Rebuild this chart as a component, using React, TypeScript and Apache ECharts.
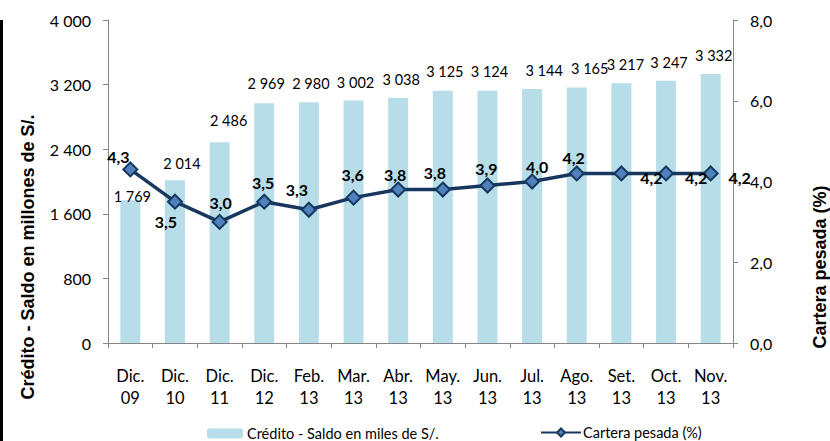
import React, { useEffect, useRef } from "react";
import * as echarts from "echarts";

const categories = ["Dic.\n09", "Dic.\n10", "Dic.\n11", "Dic.\n12", "Feb.\n13", "Mar.\n13", "Abr.\n13", "May.\n13", "Jun.\n13", "Jul.\n13", "Ago.\n13", "Set.\n13", "Oct.\n13", "Nov.\n13"];
const creditoValues = [1769, 2014, 2486, 2969, 2980, 3002, 3038, 3125, 3124, 3144, 3165, 3217, 3247, 3332];
const carteraValues = [4.3, 3.5, 3.0, 3.5, 3.3, 3.6, 3.8, 3.8, 3.9, 4.0, 4.2, 4.2, 4.2, 4.2];
const barSeriesName = "Crédito - Saldo en miles de S/.";
const lineSeriesName = "Cartera pesada (%)";
const leftAxisTitle = "Crédito - Saldo en millones de S/.";
const rightAxisTitle = "Cartera pesada (%)";

// label placement (offsets of label centre from bar top / point)
const barLabelOffsets = [[2, -3], [7, -16], [9, -21], [2, -19], [2, -18], [2, -18], [3, -18], [2, -19], [2, -19], [12, -18], [13, -18], [4, -18], [3, -18], [3, -18]];
const lineLabelOffsets = [[-12, -13], [-9, 20], [1, -19], [-1, -19], [-12, -20], [-1, -23], [-3, -15], [-8, -17], [-1, -17], [5, -15], [-3, -16], [30, 4], [30, 4], [29, 4]];

const FONT = "Lato";

const fmtThousands = (v: number) => {
  const s = String(Math.round(v));
  return s.replace(/\B(?=(\d{3})+(?!\d))/g, " ");
};

export default function App() {
  const ref = useRef<HTMLDivElement>(null);
  useEffect(() => {
    if (!ref.current) return;
    const chart = echarts.init(ref.current, undefined, { renderer: "svg" });
    chart.setOption({
      animation: false,
      backgroundColor: "#ffffff",
      textStyle: { fontFamily: FONT },
      grid: { left: 108, right: 97, top: 20, bottom: 98, containLabel: false },
      legend: [
        {
          data: [barSeriesName],
          left: 207,
          top: 426,
          itemWidth: 36,
          itemHeight: 10,
          itemGap: 0,
          textStyle: { fontFamily: FONT, fontSize: 14.5, color: "#000", padding: [0, 0, 0, -1] },
          padding: 0,
        },
        {
          data: [lineSeriesName],
          left: 540,
          top: 425,
          itemWidth: 40,
          itemHeight: 10,
          textStyle: { fontFamily: FONT, fontSize: 14.5, color: "#000", padding: [0, 0, 0, -3] },
          padding: 0,
        },
      ],
      xAxis: {
        type: "category",
        data: categories,
        axisLine: { lineStyle: { color: "#868686", width: 1 } },
        axisTick: { show: true, alignWithLabel: false, length: 5, lineStyle: { color: "#868686" } },
        axisLabel: { color: "#000", fontSize: 16.5, fontFamily: FONT, margin: 22, lineHeight: 22, interval: 0 },
        splitLine: { show: false },
      },
      yAxis: [
        {
          type: "value",
          min: 0,
          max: 4000,
          interval: 800,
          axisLine: { show: true, lineStyle: { color: "#868686" } },
          axisTick: { show: true, length: 5, lineStyle: { color: "#868686" } },
          axisLabel: { color: "#000", fontSize: 16, fontFamily: FONT, margin: 17, formatter: (v: number) => fmtThousands(v) },
          splitLine: { show: false },
        },
        {
          type: "value",
          min: 0,
          max: 8,
          interval: 2,
          position: "right",
          axisLine: { show: true, lineStyle: { color: "#868686" } },
          axisTick: { show: true, length: 5, lineStyle: { color: "#868686" } },
          axisLabel: { color: "#000", fontSize: 16, fontFamily: FONT, margin: 17, formatter: (v: number) => v.toFixed(1).replace(".", ",") },
          splitLine: { show: false },
        },
      ],
      series: [
        {
          name: barSeriesName,
          type: "bar",
          yAxisIndex: 0,
          barWidth: 20,
          itemStyle: { color: "#B7DEE8" },
          data: creditoValues.map((v, i) => ({
            value: v,
            label: {
              show: true,
              position: "top",
              distance: 0,
              offset: [barLabelOffsets[i][0], barLabelOffsets[i][1] + 7],
              formatter: () => fmtThousands(v),
              color: "#000",
              fontSize: 14.5,
              fontFamily: FONT,
            },
          })),
        },
        {
          name: lineSeriesName,
          type: "line",
          yAxisIndex: 1,
          symbol: "diamond",
          symbolSize: 14,
          lineStyle: { color: "#17375E", width: 3.5 },
          itemStyle: { color: "#4F81BD", borderColor: "#17375E", borderWidth: 2 },
          data: carteraValues.map((v, i) => ({
            value: v,
            label: {
              show: true,
              position: "inside",
              offset: lineLabelOffsets[i],
              formatter: () => v.toFixed(1).replace(".", ","),
              color: "#000",
              fontWeight: "bold",
              fontSize: 16,
              fontFamily: FONT,
            },
          })),
          z: 5,
        },
      ],
      graphic: [
        { type: "rect", left: 0, top: 20, shape: { width: 3, height: 421 }, style: { fill: "#000" } },
        {
          type: "text",
          x: 28,
          y: 257,
          rotation: Math.PI / 2,
          style: { text: leftAxisTitle, fontFamily: "Liberation Sans", fontWeight: "bold", fontSize: 18, fill: "#000", align: "center", verticalAlign: "middle" },
        },
        {
          type: "text",
          x: 820,
          y: 267,
          rotation: Math.PI / 2,
          style: { text: rightAxisTitle, fontFamily: "Liberation Sans", fontWeight: "bold", fontSize: 18, fill: "#000", align: "center", verticalAlign: "middle" },
        },
      ],
    });
    return () => chart.dispose();
  }, []);
  return <div ref={ref} style={{ width: 830, height: 441, position: "absolute", left: 0, top: 0 }} />;
}
